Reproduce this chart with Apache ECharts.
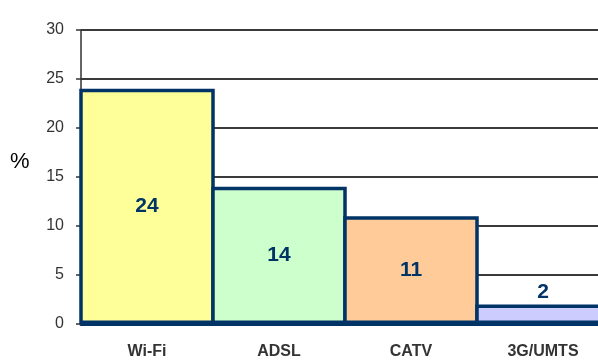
<!DOCTYPE html>
<html>
<head>
<meta charset="utf-8">
<script src="https://cdn.jsdelivr.net/npm/echarts@6/dist/echarts.min.js"></script>
<style>
  html, body { margin: 0; padding: 0; background: #fff; overflow: hidden; }
  /* the last column runs past the right edge of the 598px page */
  #chart { width: 620px; height: 360px; }
</style>
</head>
<body>
<div id="chart"></div>
<script>
// Access technologies and their share (%)
const categories = ['Wi-Fi', 'ADSL', 'CATV', '3G/UMTS'];
const shares = [24, 14, 11, 2];
const barColors = ['#FFFF99', '#CCFFCC', '#FFCC99', '#CCCCFF'];
const yTicks = { min: 0, max: 30, interval: 5 };

const chart = echarts.init(document.getElementById('chart'), null, { renderer: 'canvas' });

const navy = '#003366';
const font = '"Liberation Sans", Arial, sans-serif';
const border = 3.5;
const gridLeft = 81, gridRight = 11;
const bandWidth = (620 - gridLeft - gridRight) / categories.length;

chart.setOption({
  animation: false,
  backgroundColor: '#ffffff',
  grid: { left: gridLeft, top: 30, right: gridRight, bottom: 31, containLabel: false },
  graphic: [{
    type: 'text',
    left: 10,
    top: 151,
    style: { text: '%', font: '22px ' + font, fill: '#000' }
  }],
  xAxis: {
    type: 'category',
    data: categories,
    axisLine: { show: true, lineStyle: { color: navy, width: 3 } },
    axisTick: { show: false },
    axisLabel: {
      margin: 20,
      color: '#333',
      fontFamily: font,
      fontWeight: 'bold',
      fontSize: 16
    }
  },
  yAxis: {
    type: 'value',
    min: yTicks.min,
    max: yTicks.max,
    interval: yTicks.interval,
    axisLine: { show: true, lineStyle: { color: '#333', width: 1.5 } },
    axisTick: { show: true, length: 5, lineStyle: { color: '#333', width: 1.5 } },
    axisLabel: { color: '#333', fontFamily: font, fontSize: 16, margin: 17 },
    splitLine: { show: true, lineStyle: { color: '#3a3a3a', width: 2 } }
  },
  series: [{
    type: 'bar',
    // columns touch: widen by the border so adjacent outlines share one edge
    barWidth: bandWidth + border,
    data: shares.map((v, i) => ({
      value: v,
      itemStyle: { color: barColors[i] },
      label: v < 5 ? { position: 'top', distance: 2 } : { position: 'inside' }
    })),
    itemStyle: { borderColor: navy, borderWidth: border },
    label: {
      show: true,
      color: navy,
      fontFamily: font,
      fontWeight: 'bold',
      fontSize: 21
    }
  }]
});
</script>
</body>
</html>
